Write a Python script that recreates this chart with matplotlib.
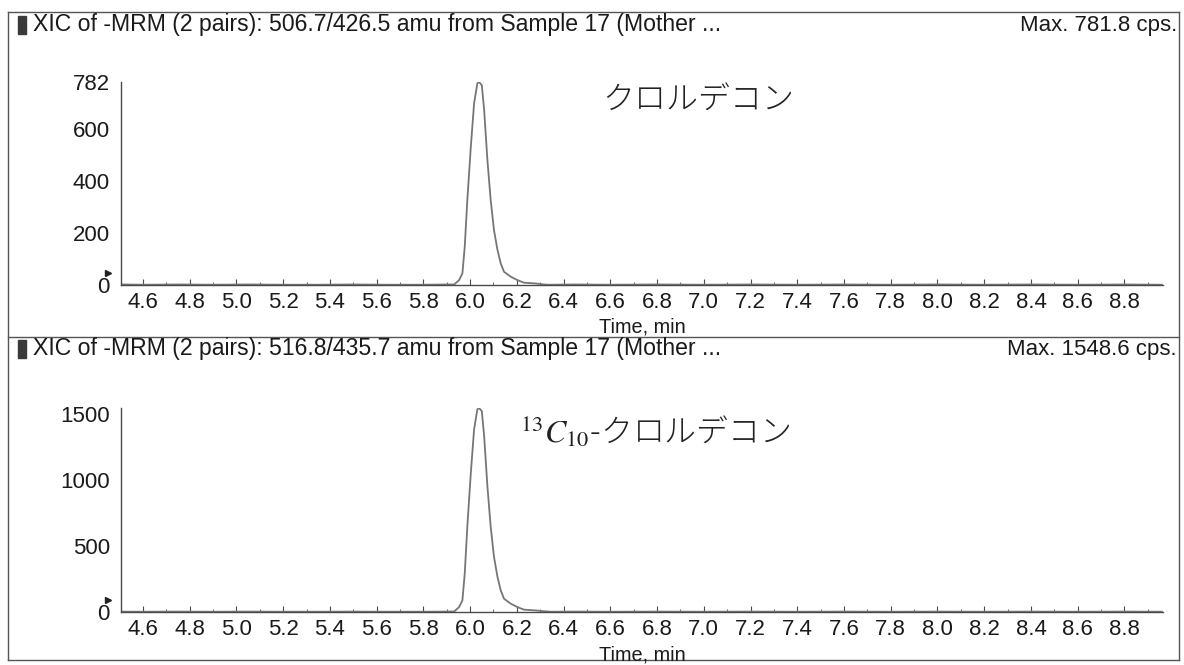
import matplotlib
matplotlib.use("Agg")
import matplotlib.pyplot as plt
from matplotlib.patches import Rectangle
from matplotlib.lines import Line2D

plt.rcParams['font.family'] = ['Liberation Sans', 'Noto Sans CJK JP', 'DejaVu Sans']
plt.rcParams['mathtext.fontset'] = 'stix'

# Extracted ion chromatograms (time in min, intensity in cps)
time_a = [4.51, 4.60, 4.75, 4.90, 5.05, 5.20, 5.35, 5.50, 5.65, 5.80, 5.90,
          5.932, 5.953, 5.967, 5.977, 5.988, 6.003, 6.017, 6.031, 6.038,
          6.050, 6.060, 6.074, 6.088, 6.102, 6.117, 6.131, 6.145, 6.174,
          6.202, 6.230, 6.280, 6.316, 6.337, 6.45, 6.60, 6.80, 7.00, 7.20,
          7.40, 7.60, 7.80, 8.00, 8.20, 8.40, 8.60, 8.80, 8.96]
int_a = [2, 1, 2, 1, 2, 1, 1, 2, 1, 1, 2,
         2, 19, 45, 148, 327, 533, 700, 777, 781.8,
         770, 674, 481, 327, 212, 135, 83, 51, 32,
         19, 9, 6, 2, 1, 2, 1, 2, 1, 2,
         1, 2, 1, 2, 1, 2, 1, 2, 1]

time_b = [4.51, 4.60, 4.75, 4.90, 5.05, 5.20, 5.35, 5.50, 5.65, 5.80, 5.90,
          5.932, 5.953, 5.967, 5.977, 5.988, 6.003, 6.017, 6.031, 6.038,
          6.050, 6.060, 6.074, 6.088, 6.102, 6.117, 6.131, 6.145, 6.174,
          6.202, 6.230, 6.280, 6.316, 6.345, 6.45, 6.60, 6.80, 7.00, 7.20,
          7.40, 7.60, 7.80, 8.00, 8.20, 8.40, 8.60, 8.80, 8.96]
int_b = [3, 2, 3, 2, 3, 2, 2, 3, 2, 2, 3,
         4, 38, 89, 293, 648, 1056, 1387, 1539, 1548.6,
         1525, 1335, 953, 648, 420, 267, 164, 101, 63,
         38, 18, 12, 6, 2, 3, 2, 3, 2, 3,
         2, 3, 2, 3, 2, 3, 2, 3, 2]

titles = ["XIC of -MRM (2 pairs): 506.7/426.5 amu from Sample 17 (Mother ...",
          "XIC of -MRM (2 pairs): 516.8/435.7 amu from Sample 17 (Mother ..."]
max_labels = ["Max. 781.8 cps.", "Max. 1548.6 cps."]
y_maxes = [781.8, 1548.6]
y_ticks = [[0, 200, 400, 600, 782], [0, 500, 1000, 1500]]
x_ticks = [4.6, 4.8, 5.0, 5.2, 5.4, 5.6, 5.8, 6.0, 6.2, 6.4, 6.6, 6.8, 7.0,
           7.2, 7.4, 7.6, 7.8, 8.0, 8.2, 8.4, 8.6, 8.8]
compound_labels = ["クロルデコン", r"$^{13}\mathit{C}_{10}$-クロルデコン"]

W, H = 1184, 665
fig = plt.figure(figsize=(W / 100, H / 100), dpi=100)

def fx(px):
    return px / W

def fy(py):
    return 1 - py / H

# panel geometry in pixels
panels = [
    dict(ytop=82, ybot=285, title_y=25, label_y=327, comp_xy=(602, 100)),
    dict(ytop=408, ybot=612, title_y=349, label_y=655, comp_xy=(520, 433)),
]
ax_left, ax_right = 121, 1163

series = [(time_a, int_a), (time_b, int_b)]
grey = '#4a4a4a'

for i, p in enumerate(panels):
    ax = fig.add_axes([fx(ax_left), fy(p['ybot']), fx(ax_right - ax_left),
                       (p['ybot'] - p['ytop']) / H])
    t, v = series[i]
    ax.plot(t, v, color='#767676', lw=1.3)
    ax.set_xlim(4.506, 8.965)
    ax.set_ylim(0, y_maxes[i])
    for s in ('top', 'right'):
        ax.spines[s].set_visible(False)
    for s in ('left', 'bottom'):
        ax.spines[s].set_color(grey)
        ax.spines[s].set_linewidth(1.0)
    ax.set_xticks(x_ticks)
    ax.set_xticklabels([f"{x:.1f}" for x in x_ticks])
    ax.set_xticks([x + 0.1 for x in x_ticks], minor=True)
    ax.set_yticks(y_ticks[i])
    ax.tick_params(axis='x', which='major', direction='in', length=4,
                   width=0.8, color=grey, labelsize=16, pad=5,
                   labelcolor='#1a1a1a')
    ax.tick_params(axis='x', which='minor', direction='in', length=2,
                   width=0.6, color=grey)
    ax.tick_params(axis='y', direction='out', length=0, labelsize=16,
                   pad=8, labelcolor='#1a1a1a')
    ax.patch.set_alpha(0)
    # small pointer marking the zero level
    ax.plot([-0.012], [0.06], marker='>', ms=4, color='#222222',
            transform=ax.transAxes, clip_on=False)

    # header strip of each panel
    fig.patches.append(Rectangle((fx(18), fy(p['title_y'] + 9)), fx(8), 18 / H,
                                 transform=fig.transFigure, color='#3a3a3a'))
    fig.text(fx(33), fy(p['title_y']), titles[i], fontsize=16.6,
             va='center', ha='left', color='#1a1a1a')
    fig.text(fx(1177), fy(p['title_y']), max_labels[i], fontsize=16,
             va='center', ha='right', color='#1a1a1a')
    fig.text(fx((ax_left + ax_right) / 2), fy(p['label_y']), "Time, min",
             fontsize=14.3, va='center', ha='center', color='#1a1a1a')
    cx, cy = p['comp_xy']
    fig.text(fx(cx), fy(cy), compound_labels[i], fontsize=23,
             va='center', ha='left', color='#222222', fontweight='light',
             family=['Noto Sans CJK JP', 'DejaVu Serif'])

# outer frame and panel divider
frame_col = '#555555'
for (x0, y0, x1, y1) in [(8, 12, 1179, 12), (8, 660, 1179, 660),
                         (8, 12, 8, 660), (1179, 12, 1179, 660),
                         (8, 337, 1179, 337)]:
    fig.add_artist(Line2D([fx(x0), fx(x1)], [fy(y0), fy(y1)],
                          transform=fig.transFigure, color=frame_col, lw=1.0))

fig.savefig("out.png", dpi=100, facecolor='white')
